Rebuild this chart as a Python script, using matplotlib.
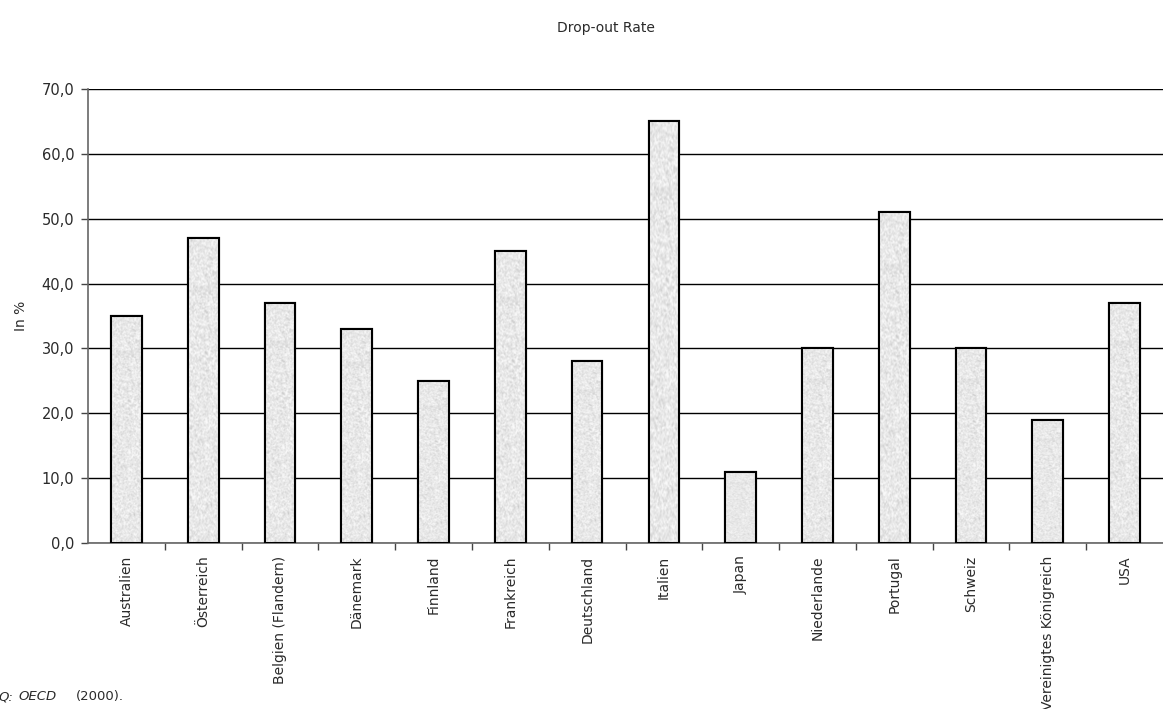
import numpy as np
import matplotlib
matplotlib.use("Agg")
import matplotlib.pyplot as plt
from matplotlib.ticker import MultipleLocator, FixedLocator

countries = ["Australien", "Österreich", "Belgien (Flandern)", "Dänemark", "Finnland",
             "Frankreich", "Deutschland", "Italien", "Japan", "Niederlande",
             "Portugal", "Schweiz", "Vereinigtes Königreich", "USA"]
dropout_rate = [35, 47, 37, 33, 25, 45, 28, 65, 11, 30, 51, 30, 19, 37]

plt.rcParams["font.family"] = ["DejaVu Sans"]
TXT = "#2a2a2a"

fig = plt.figure(figsize=(11.63, 7.09), dpi=100)
ax = fig.add_axes([0.0757, 0.2341, 0.9243, 0.6404])

x = np.arange(len(countries))
bars = ax.bar(x, dropout_rate, width=0.4, facecolor="#ececec",
              edgecolor="black", linewidth=1.5, zorder=3)

# granite-like fill texture for each bar
rng = np.random.default_rng(7)
noise = rng.random((400, 60))
k = np.ones((3, 3)) / 9.0
pad = np.pad(noise, 1, mode="wrap")
smooth = sum(pad[i:i + 400, j:j + 60] * k[i, j] for i in range(3) for j in range(3))
tex = 0.91 + (smooth - smooth.mean()) * 0.3 + (noise - 0.5) * 0.05
tex = np.clip(tex, 0.75, 0.98)
for b in bars:
    x0, w, h = b.get_x(), b.get_width(), b.get_height()
    im = ax.imshow(tex, cmap="gray", vmin=0, vmax=1, aspect="auto",
                   extent=(x0, x0 + w, 0, h), zorder=3.5, interpolation="bilinear")
    im.set_clip_path(b)
    ax.add_patch(plt.Rectangle((x0, 0), w, h, fill=False, edgecolor="black",
                               linewidth=1.5, zorder=4))

ax.set_xlim(-0.5, len(countries) - 0.5)
ax.set_ylim(0, 70)
ax.yaxis.set_major_locator(MultipleLocator(10))
ax.yaxis.set_major_formatter(lambda v, p: f"{v:.1f}".replace(".", ","))
ax.grid(axis="y", color="black", linewidth=1.0, zorder=1)
ax.set_axisbelow(True)

ax.set_xticks(x)
ax.set_xticklabels(countries, rotation=90, fontsize=10, color=TXT)
ax.tick_params(axis="x", which="major", length=0, pad=9)
ax.xaxis.set_minor_locator(FixedLocator(np.arange(0.5, len(countries) - 0.5, 1)))
ax.tick_params(axis="x", which="minor", length=5, color="#444444", width=1, direction="out")
ax.tick_params(axis="y", length=5, color="#444444", width=1, labelsize=10.5,
               labelcolor=TXT, pad=5)

for side in ["top", "right"]:
    ax.spines[side].set_visible(False)
ax.spines["left"].set_color("#666666")
ax.spines["bottom"].set_color("#666666")
ax.spines["left"].set_linewidth(1.2)
ax.spines["bottom"].set_linewidth(1.2)

ax.set_ylabel("In %", fontsize=10, color=TXT, labelpad=10)

fig.text(0.521, 0.96, "Drop-out Rate", ha="center", va="center", fontsize=10,
         color=TXT)
fig.text(-0.001, 0.012, "Q:", fontsize=9.5, style="italic", color=TXT)
fig.text(0.016, 0.012, "OECD", fontsize=9.5, style="italic", color=TXT)
fig.text(0.065, 0.012, "(2000).", fontsize=9.5, color=TXT)

fig.savefig("out.png", dpi=100)
